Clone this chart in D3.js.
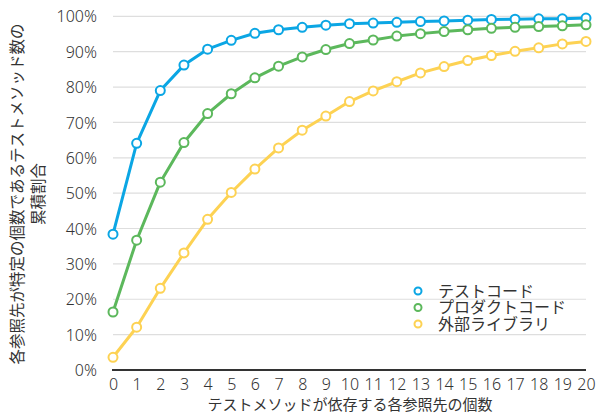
<!DOCTYPE html>
<html><head><meta charset="utf-8">
<script src="https://cdn.jsdelivr.net/npm/d3@7"></script>
<style>
body{margin:0;background:#fff;}
svg text{font-family:"Noto Sans CJK JP","Noto Sans",sans-serif;fill:#333;}
</style></head>
<body><svg id="c" width="596" height="414"></svg>
<script>
const categories = d3.range(0,21);
const seriesNames = ["テストコード","プロダクトコード","外部ライブラリ"];
const testCode = [38.4,64.1,79.0,86.2,90.7,93.2,95.2,96.2,96.9,97.5,97.9,98.1,98.3,98.5,98.7,98.9,99.1,99.2,99.3,99.3,99.5];
const productCode = [16.4,36.7,53.1,64.3,72.5,78.1,82.6,85.9,88.5,90.6,92.3,93.3,94.4,95.1,95.7,96.2,96.6,96.9,97.1,97.3,97.6];
const externalLib = [3.6,12.1,23.1,33.1,42.6,50.2,56.8,62.8,67.8,71.8,75.9,78.9,81.5,84.0,85.8,87.5,88.9,90.1,91.1,92.2,92.9];
const yTicks = [0,10,20,30,40,50,60,70,80,90,100];
const colors = ["#0ba6e4","#5cb85c","#fdd253"];
const series = [testCode, productCode, externalLib];

const svg = d3.select("#c");
const x = d3.scaleLinear().domain([0,20]).range([113,586]);
const y = d3.scaleLinear().domain([0,100]).range([370,16.3]);

// gridlines
svg.append("g").selectAll("line").data(yTicks.filter(d=>d>0)).join("line")
  .attr("x1",x(0)).attr("x2",x(20)).attr("y1",d=>y(d)).attr("y2",d=>y(d))
  .attr("stroke","#dedede").attr("stroke-width",1.2);

// y axis labels
const yAxis = d3.axisLeft(y).tickValues(yTicks).tickFormat(d=>d+"%").tickSize(0).tickPadding(0);
const gy = svg.append("g").attr("transform","translate(97,0)").call(yAxis);
gy.select(".domain").remove();
gy.selectAll("text").style("font-size","16px").style("font-family","'Noto Sans','Noto Sans CJK JP',sans-serif").style("font-weight","300").attr("fill","#333").attr("dy","0.35em");

// x axis
const xAxis = d3.axisBottom(x).tickValues(categories).tickSize(0).tickPadding(0);
const gx = svg.append("g").attr("transform","translate(0,370)").call(xAxis);
gx.select(".domain").attr("stroke","#333").attr("stroke-width",2).attr("d",`M${x(0)-1},0H${x(20)}`);
gx.selectAll("text").style("font-size","16px").style("font-family","'Noto Sans','Noto Sans CJK JP',sans-serif").style("font-weight","300").attr("fill","#333").attr("y",20).attr("dy",0);

// lines
const line = d3.line().x((d,i)=>x(categories[i])).y(d=>y(d));
series.forEach((s,k)=>{
  svg.append("path").datum(s).attr("d",line).attr("fill","none")
    .attr("stroke",colors[k]).attr("stroke-width",3).attr("stroke-linejoin","round");
});
series.forEach((s,k)=>{
  svg.append("g").selectAll("circle").data(s).join("circle")
    .attr("cx",(d,i)=>x(categories[i])).attr("cy",d=>y(d)).attr("r",4.5)
    .attr("fill","#fff").attr("stroke",colors[k]).attr("stroke-width",2);
});

// legend
const lg = svg.append("g");
seriesNames.forEach((n,k)=>{
  const yy = 291 + k*16.5;
  lg.append("circle").attr("cx",418).attr("cy",yy).attr("r",3.5).attr("fill","#fff").attr("stroke",colors[k]).attr("stroke-width",2);
  lg.append("text").attr("x",438).attr("y",yy).attr("dy","0.35em").style("font-size","16px").text(n);
});

// axis titles
svg.append("text").attr("x",350).attr("y",410).attr("text-anchor","middle").style("font-size","15px").text("テストメソッドが依存する各参照先の個数");
svg.append("text").attr("transform","translate(23,194) rotate(-90)").attr("text-anchor","middle").style("font-size","15.5px").text("各参照先が特定の個数であるテストメソッド数の");
svg.append("text").attr("transform","translate(44,194) rotate(-90)").attr("text-anchor","middle").style("font-size","15.5px").text("累積割合");
</script></body></html>
